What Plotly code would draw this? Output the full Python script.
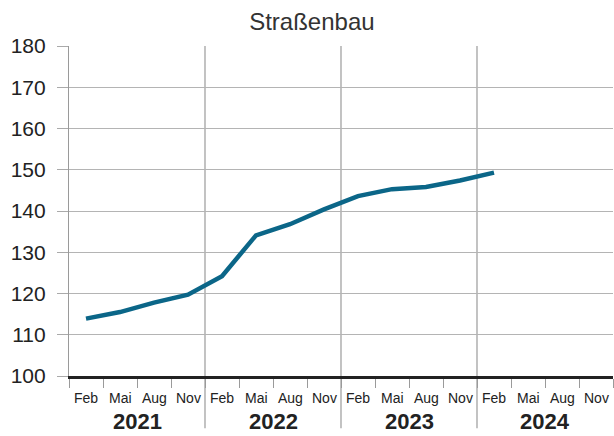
import plotly.graph_objects as go

title = "Straßenbau"
years = ["2021", "2022", "2023", "2024"]
months = ["Feb", "Mai", "Aug", "Nov"]
values = [113.9, 115.5, 117.8, 119.7, 124.2, 134.1, 136.8, 140.4,
          143.6, 145.3, 145.8, 147.4, 149.3]
y_ticks = [100, 110, 120, 130, 140, 150, 160, 170, 180]

n_q = len(years) * len(months)
x_vals = [i + 0.5 for i in range(len(values))]

fig = go.Figure()
fig.add_trace(go.Scatter(x=x_vals, y=values, mode="lines",
                         line=dict(color="#0b6688", width=4.5),
                         hoverinfo="skip", showlegend=False))

shapes = []
for k in range(1, len(years)):
    xb = k * len(months)
    shapes.append(dict(type="line", xref="x", yref="paper", x0=xb, x1=xb,
                       y0=-0.158, y1=1, line=dict(color="#9a9a9a", width=1.2),
                       layer="below"))

FONT = "Liberation Sans, Arial, sans-serif"
annotations = []
for q in range(n_q):
    annotations.append(dict(x=q + 0.5, y=-0.067, xref="x", yref="paper",
                            text=months[q % len(months)], showarrow=False,
                            font=dict(family=FONT, size=14, color="#222"),
                            yanchor="middle"))
for k, yr in enumerate(years):
    annotations.append(dict(x=k * len(months) + len(months) / 2, y=-0.137,
                            xref="x", yref="paper", text="<b>" + yr + "</b>",
                            showarrow=False,
                            font=dict(family=FONT, size=22, color="#222"),
                            yanchor="middle"))

fig.update_layout(
    width=614, height=436,
    margin=dict(l=69, r=1, t=46, b=60),
    paper_bgcolor="white", plot_bgcolor="white",
    title=dict(text=title, x=0.508, xanchor="center", y=0.95, yanchor="middle",
               xref="container", yref="container",
               font=dict(family=FONT, size=24, color="#333")),
    xaxis=dict(range=[0, n_q], tickvals=list(range(n_q + 1)), showticklabels=False,
               ticks="outside", ticklen=9, tickcolor="#9a9a9a", tickwidth=1,
               showgrid=False, zeroline=False, showline=True,
               linecolor="#222", linewidth=2.5, fixedrange=True),
    yaxis=dict(range=[100, 180], tickvals=y_ticks, ticks="outside", ticklen=11,
               ticklabelstandoff=7,
               tickcolor="#aaaaaa", showgrid=True, gridcolor="#b4b4b4", gridwidth=1.2,
               zeroline=False, showline=True, linecolor="#9a9a9a", linewidth=1.2,
               tickfont=dict(family=FONT, size=21, color="#222"),
               fixedrange=True),
    shapes=shapes,
    annotations=annotations,
)

fig.write_html("out.html", config={"displayModeBar": False},
               post_script="document.body.style.margin='0';document.body.style.overflow='hidden';")
